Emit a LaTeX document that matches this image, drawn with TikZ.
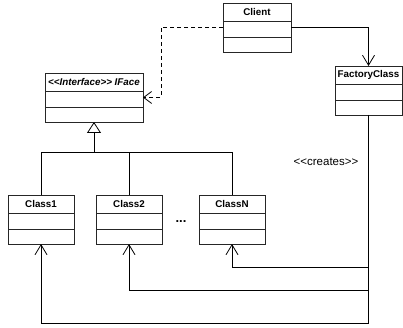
\documentclass[tikz,border=0pt]{standalone}
\usepackage{fontspec}
\setmainfont{Liberation Sans}
\usetikzlibrary{arrows.meta}
\tikzset{
  clsbox/.style={draw=black!85, line width=0.9pt, rectangle, inner sep=0pt, outer sep=0pt, minimum height=49pt},
  clstitle/.style={inner sep=0pt, font=\fontsize{9.8}{11}\selectfont\bfseries},
  conn/.style={draw=black, line width=0.8pt},
  assoc/.style={conn, -{Straight Barb[length=10pt,width=12pt]}},
  dep/.style={conn, dash pattern=on 4pt off 3pt, -{Straight Barb[length=8pt,width=12pt]}},
  inh/.style={conn, -{Triangle[open, length=11pt, width=14pt, fill=white]}},
}
\newcommand\umlcls[5]{%
  \node[clsbox, anchor=north west, minimum width=#4pt] (#1) at (#2,#3) {};
  \draw[draw=black!85, line width=0.9pt] ([yshift=-18pt]#1.north west) -- ([yshift=-18pt]#1.north east);
  \draw[draw=black!85, line width=0.9pt] ([yshift=-34pt]#1.north west) -- ([yshift=-34pt]#1.north east);
  \node[clstitle] (#1-t) at ([yshift=-9pt]#1.north) {#5};
}
\begin{document}
\begin{tikzpicture}[x=1pt,y=-1pt]
\useasboundingbox (0,0) rectangle (403,328);
\umlcls{client}{223}{3}{68}{Client}
\umlcls{factory}{335}{66}{67}{FactoryClass}
\umlcls{iface}{45}{73}{98}{\itshape <{}<Interface>{}> IFace}
\umlcls{class1}{8}{195}{66}{Class1}
\umlcls{class2}{96}{195}{66}{Class2}
\umlcls{classN}{199}{195}{66}{ClassN}
\node[font=\fontsize{13}{14}\selectfont\bfseries] (dots) at (181,222) {...};
\node[font=\fontsize{11.5}{13}\selectfont] (creates) at (326,162) {<{}<creates>{}>};
% client -> factory
\draw[assoc] (client.east) -| (factory.north);
% client - - > interface
\coordinate (dbend) at (161,0);
\draw[dep] (client.west) -- (client.west -| dbend) |- (iface.east);
% inheritance
\coordinate (bar) at (94,152);
\draw[conn] (class1.north) |- (classN.north |- bar) -- (classN.north);
\draw[conn] (class2.north) -- (class2.north |- bar);
\draw[inh] (bar) -- (iface.south);
% creates
\coordinate (y1) at (0,323);
\coordinate (y2) at (0,290);
\coordinate (y3) at (0,267);
\draw[assoc] (factory.south) -- (factory.south |- y1) -| (class1.south);
\draw[assoc] (factory.south |- y2) -| (class2.south);
\draw[assoc] (factory.south |- y3) -| (classN.south);
\end{tikzpicture}
\end{document}
